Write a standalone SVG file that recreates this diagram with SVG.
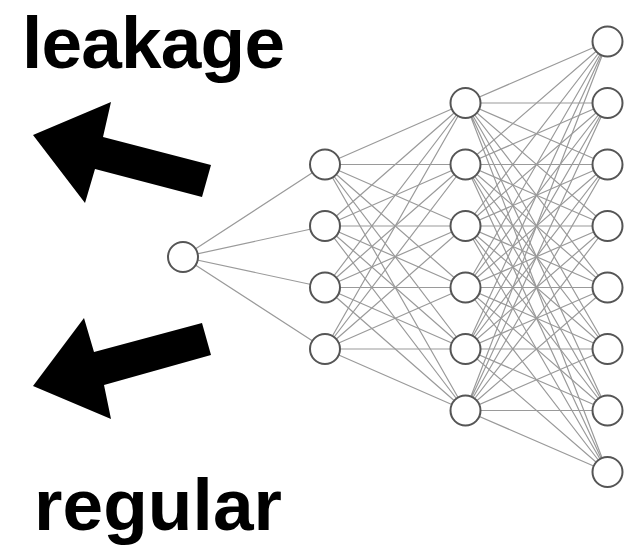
<svg xmlns="http://www.w3.org/2000/svg" width="640" height="547" viewBox="0 0 640 547">
  <style>
    .edge { stroke: #9a9a9a; stroke-width: 1.2; fill: none; }
    .neuron { fill: #ffffff; stroke: #555555; stroke-width: 2; }
    .big { font-family: "Liberation Sans", Arial, Helvetica, sans-serif; font-weight: bold; font-size: 73px; fill: #000000; }
    .arrow { fill: #000000; }
  </style>
  <rect width="640" height="547" fill="#ffffff"/>

  <!-- labels -->
  <text class="big" x="22" y="68" textLength="263" lengthAdjust="spacing">leakage</text>
  <text class="big" x="34" y="530" textLength="248" lengthAdjust="spacing">regular</text>

  <!-- block arrows -->
  <polygon id="arrow-up" class="arrow" points="33,135 111,102 103,137 211,165 202,197 95,169 85,203"/>
  <polygon id="arrow-down" class="arrow" points="33,386 84,318 94,352 202,323 211,355 104,385 111,419"/>

  <!-- connections between layers -->
  <g id="connectors" class="edge">
    <!-- input -> hidden 1 -->
    <path d="M183,257L325,164.5M183,257L325,226M183,257L325,287.5M183,257L325,349"/>
    <!-- hidden 1 -> hidden 2 -->
    <path d="M325,164.5L465.5,103M325,164.5L465.5,164.5M325,164.5L465.5,226M325,164.5L465.5,287.5M325,164.5L465.5,349M325,164.5L465.5,410.5"/>
    <path d="M325,226L465.5,103M325,226L465.5,164.5M325,226L465.5,226M325,226L465.5,287.5M325,226L465.5,349M325,226L465.5,410.5"/>
    <path d="M325,287.5L465.5,103M325,287.5L465.5,164.5M325,287.5L465.5,226M325,287.5L465.5,287.5M325,287.5L465.5,349M325,287.5L465.5,410.5"/>
    <path d="M325,349L465.5,103M325,349L465.5,164.5M325,349L465.5,226M325,349L465.5,287.5M325,349L465.5,349M325,349L465.5,410.5"/>
    <!-- hidden 2 -> output -->
    <path d="M465.5,103L607.5,41.5M465.5,103L607.5,103M465.5,103L607.5,164.5M465.5,103L607.5,226M465.5,103L607.5,287.5M465.5,103L607.5,349M465.5,103L607.5,410.5M465.5,103L607.5,472"/>
    <path d="M465.5,164.5L607.5,41.5M465.5,164.5L607.5,103M465.5,164.5L607.5,164.5M465.5,164.5L607.5,226M465.5,164.5L607.5,287.5M465.5,164.5L607.5,349M465.5,164.5L607.5,410.5M465.5,164.5L607.5,472"/>
    <path d="M465.5,226L607.5,41.5M465.5,226L607.5,103M465.5,226L607.5,164.5M465.5,226L607.5,226M465.5,226L607.5,287.5M465.5,226L607.5,349M465.5,226L607.5,410.5M465.5,226L607.5,472"/>
    <path d="M465.5,287.5L607.5,41.5M465.5,287.5L607.5,103M465.5,287.5L607.5,164.5M465.5,287.5L607.5,226M465.5,287.5L607.5,287.5M465.5,287.5L607.5,349M465.5,287.5L607.5,410.5M465.5,287.5L607.5,472"/>
    <path d="M465.5,349L607.5,41.5M465.5,349L607.5,103M465.5,349L607.5,164.5M465.5,349L607.5,226M465.5,349L607.5,287.5M465.5,349L607.5,349M465.5,349L607.5,410.5M465.5,349L607.5,472"/>
    <path d="M465.5,410.5L607.5,41.5M465.5,410.5L607.5,103M465.5,410.5L607.5,164.5M465.5,410.5L607.5,226M465.5,410.5L607.5,287.5M465.5,410.5L607.5,349M465.5,410.5L607.5,410.5M465.5,410.5L607.5,472"/>
  </g>

  <!-- input layer -->
  <g id="in-0"><circle class="neuron" cx="183" cy="257" r="15"/></g>

  <!-- hidden layer 1 -->
  <g id="h1-0"><circle class="neuron" cx="325" cy="164.5" r="15"/></g>
  <g id="h1-1"><circle class="neuron" cx="325" cy="226" r="15"/></g>
  <g id="h1-2"><circle class="neuron" cx="325" cy="287.5" r="15"/></g>
  <g id="h1-3"><circle class="neuron" cx="325" cy="349" r="15"/></g>

  <!-- hidden layer 2 -->
  <g id="h2-0"><circle class="neuron" cx="465.5" cy="103" r="15"/></g>
  <g id="h2-1"><circle class="neuron" cx="465.5" cy="164.5" r="15"/></g>
  <g id="h2-2"><circle class="neuron" cx="465.5" cy="226" r="15"/></g>
  <g id="h2-3"><circle class="neuron" cx="465.5" cy="287.5" r="15"/></g>
  <g id="h2-4"><circle class="neuron" cx="465.5" cy="349" r="15"/></g>
  <g id="h2-5"><circle class="neuron" cx="465.5" cy="410.5" r="15"/></g>

  <!-- output layer -->
  <g id="out-0"><circle class="neuron" cx="607.5" cy="41.5" r="15"/></g>
  <g id="out-1"><circle class="neuron" cx="607.5" cy="103" r="15"/></g>
  <g id="out-2"><circle class="neuron" cx="607.5" cy="164.5" r="15"/></g>
  <g id="out-3"><circle class="neuron" cx="607.5" cy="226" r="15"/></g>
  <g id="out-4"><circle class="neuron" cx="607.5" cy="287.5" r="15"/></g>
  <g id="out-5"><circle class="neuron" cx="607.5" cy="349" r="15"/></g>
  <g id="out-6"><circle class="neuron" cx="607.5" cy="410.5" r="15"/></g>
  <g id="out-7"><circle class="neuron" cx="607.5" cy="472" r="15"/></g>
</svg>
